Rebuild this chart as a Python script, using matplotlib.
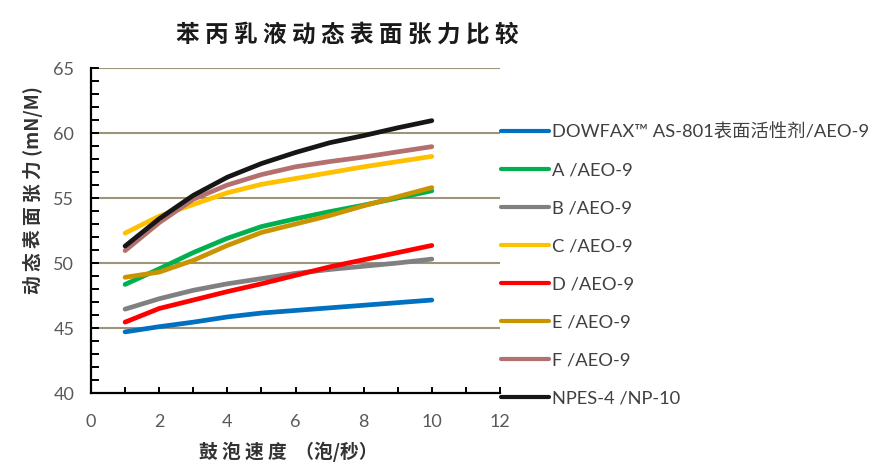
import matplotlib
matplotlib.use("Agg")
import matplotlib.pyplot as plt
from matplotlib.ticker import MultipleLocator

# ---- data ----
bubble_rate = [1, 2, 3, 4, 5, 6, 7, 8, 9, 10]
series_names = ["DOWFAX™ AS-801表面活性剂/AEO-9", "A /AEO-9", "B /AEO-9", "C /AEO-9",
                "D /AEO-9", "E /AEO-9", "F /AEO-9", "NPES-4 /NP-10"]
dowfax = [44.7, 45.1, 45.45, 45.85, 46.15, 46.35, 46.55, 46.75, 46.95, 47.15]
sample_a = [48.35, 49.55, 50.8, 51.9, 52.8, 53.4, 53.95, 54.45, 55.0, 55.55]
sample_b = [46.45, 47.25, 47.9, 48.4, 48.8, 49.2, 49.5, 49.75, 50.0, 50.3]
sample_c = [52.3, 53.6, 54.5, 55.4, 56.05, 56.5, 56.95, 57.4, 57.8, 58.2]
sample_d = [45.45, 46.5, 47.15, 47.8, 48.4, 49.05, 49.7, 50.25, 50.8, 51.35]
sample_e = [48.9, 49.3, 50.2, 51.35, 52.35, 53.0, 53.65, 54.4, 55.1, 55.8]
sample_f = [50.95, 53.1, 54.9, 56.0, 56.8, 57.4, 57.8, 58.15, 58.55, 58.95]
npes = [51.3, 53.4, 55.2, 56.6, 57.65, 58.5, 59.25, 59.8, 60.4, 60.95]
all_series = [dowfax, sample_a, sample_b, sample_c, sample_d, sample_e, sample_f, npes]
colors = ["#0070C0", "#00B050", "#808080", "#FFC000", "#FF0000", "#C99400", "#B3706E", "#161616"]

title = "苯丙乳液动态表面张力比较"
xlabel = "鼓 泡 速 度  （泡/秒）"
ylabel = "动 态 表 面 张 力 (mN/M)"

cjk = ["Noto Sans CJK SC", "DejaVu Sans"]
num_font = ["Lato", "DejaVu Sans"]

fig = plt.figure(figsize=(8.81, 4.69), dpi=100)
ax = fig.add_axes([91 / 881, 1 - 393 / 469, 409 / 881, 325 / 469])

grid_c = "#9C957A"
for y in [45, 50, 55, 60, 65]:
    ax.axhline(y, color=grid_c, lw=1.5, zorder=1)

lines = []
for vals, c, name in zip(all_series, colors, series_names):
    ln, = ax.plot(bubble_rate, vals, color=c, lw=3.4, solid_capstyle="round",
                  solid_joinstyle="round", label=name, zorder=3)
    lines.append(ln)

ax.set_xlim(0, 12)
ax.set_ylim(40, 65)
ax.xaxis.set_major_locator(MultipleLocator(2))
ax.xaxis.set_minor_locator(MultipleLocator(1))
ax.yaxis.set_major_locator(MultipleLocator(5))
ax.yaxis.set_minor_locator(MultipleLocator(1))
for s in ["top", "right"]:
    ax.spines[s].set_visible(False)
for s in ["left", "bottom"]:
    ax.spines[s].set_linewidth(1.6)
    ax.spines[s].set_color("black")
    ax.spines[s].set_zorder(4)

ax.tick_params(axis="y", which="both", direction="in", length=6, width=1.4,
               colors="black", labelcolor="#595959", labelsize=13, pad=12)
ax.tick_params(axis="x", which="both", direction="in", length=4, width=1.4,
               colors="black", labelcolor="#595959", labelsize=13, pad=15)
for lab in ax.get_xticklabels() + ax.get_yticklabels():
    lab.set_family(num_font)

fig.text(347 / 881, 1 - 35 / 469, " ".join(title), family=cjk, fontsize=17,
         fontweight="bold", color="#1a1a1a", ha="center", va="center")
fig.text(288 / 881, 1 - 452 / 469, xlabel, family=cjk, fontsize=13.5,
         fontweight="bold", color="#333333", ha="center", va="center")
fig.text(33 / 881, 1 - 190 / 469, ylabel, family=cjk, fontsize=13.5,
         fontweight="bold", color="#333333", ha="center", va="center", rotation=90)

leg = fig.legend(handles=lines, loc="upper left", bbox_to_anchor=(501 / 881, 1 - 123 / 469),
                 frameon=False, prop={"family": ["Lato", "Noto Sans CJK SC", "DejaVu Sans"], "size": 13.2},
                 handlelength=2.6, handletextpad=0.2, labelspacing=1.2, borderaxespad=0,
                 borderpad=0)
for t in leg.get_texts():
    t.set_color("#404040")
for h in leg.legend_handles:
    h.set_linewidth(3.0)

fig.savefig("out.png", dpi=100)
